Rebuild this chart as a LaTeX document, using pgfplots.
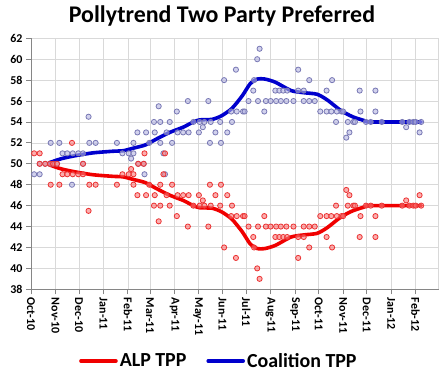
\documentclass[border=0pt]{standalone}
\usepackage{pgfplots}
\usepackage{pgfplotstable}
\pgfplotsset{compat=1.18}
\usepackage{fontspec}
\setmainfont{Carlito}
\definecolor{gridc}{RGB}{217,217,217}
\definecolor{axisc}{RGB}{134,134,134}
\definecolor{alpline}{RGB}{240,0,0}
\definecolor{coaline}{RGB}{0,0,205}
\definecolor{alpedge}{RGB}{235,50,50}
\definecolor{alpfill}{RGB}{250,120,120}
\definecolor{coaedge}{RGB}{120,120,180}
\definecolor{coafill}{RGB}{180,180,225}

\pgfplotstableread{
day v
4 51
11 51
11 50
18 50
24 50
28 50
33 50
40 49
46 49
53 49
60 49
66 49
66 50
25 48
36 48
74 48
82 48
109 48
52 52
73 45.5
116 49
124 49
130 49
127 49.5
130 48
135 47
136 50
143 50
144 51
146 47
150 48
157 47
156 46
164 46
162 44.5
164 48
168 49
170 51
172 47
176 46
179 48
185 45
186 47
193 47
200 47
199 44
206 46
213 47
214 46
218 46.5
220 46
225 44
227 48
228 46
234 47
240 46
241 48
245 42
249 47
254 45
255 46
260 41
261 45
269 45
271 45
276 44
282 43
283 42
287 40
290 39
288 44
296 45
298 44
304 44
311 44
317 44
324 44
333 44
310 43
315 43
320 43
325 43
339 43
346 43
339 41
346 44
353 44
360 44
353 42
367 45
375 45
375 43
381 45
382 42
387 46
388 45
394 45
396 45
400 47.5
404 47
402 46
409 46
411 46
418 45
417 43
425 46
431 46
437 45
437 43
445 46
471 46
476 46.5
480 46
485 46
488 46
495 46
493 47
}\alppts

\pgfplotstableread{
day v
4 49
11 49
11 50
18 50
24 50
28 50
33 50
40 51
46 51
53 51
60 51
66 51
66 50
25 52
36 52
74 52
82 52
109 52
52 48
73 54.5
116 51
124 51
130 51
127 50.5
130 52
135 53
136 50
143 50
144 49
146 53
150 52
157 53
156 54
164 54
162 55.5
164 52
168 51
170 49
172 53
176 54
179 52
185 55
186 53
193 53
200 53
199 56
206 54
213 53
214 54
218 53.5
220 54
225 56
227 52
228 54
234 53
240 54
241 52
245 58
249 53
254 55
255 54
260 59
261 55
269 55
271 55
276 56
282 57
283 58
287 60
290 61
288 56
296 55
298 56
304 56
311 56
317 56
324 56
333 56
310 57
315 57
320 57
325 57
339 57
346 57
339 59
346 56
353 56
360 56
353 58
367 55
375 55
375 57
381 55
382 58
387 54
388 55
394 55
396 55
400 52.5
404 53
402 54
409 54
411 54
418 55
417 57
425 54
431 54
437 55
437 57
445 54
471 54
476 53.5
480 54
485 54
488 54
495 54
493 53
}\coapts

\pgfplotstableread{
day v
23 49.9
39 49.5
58 49.2
79 48.95
104 48.8
117 48.75
130 48.5
145 48.2
160 47.6
176 47.0
193 46.5
206 46.0
214 45.8
230 45.75
242 45.4
255 44.7
268 43.5
278 42.35
287 41.9
297 41.9
310 42.2
330 43.0
346 43.2
363 43.35
376 43.9
393 44.9
408 45.5
422 45.85
430 46.0
495 46.0
}\alptrend

\pgfplotstableread{
day v
23 50.1
39 50.5
58 50.8
79 51.05
104 51.2
117 51.25
130 51.5
145 51.8
160 52.4
176 53.0
193 53.5
206 54.0
214 54.2
230 54.25
242 54.6
255 55.3
268 56.5
278 57.65
287 58.1
297 58.1
310 57.8
330 57.0
346 56.8
363 56.65
376 56.1
393 55.1
408 54.5
422 54.15
430 54.0
495 54.0
}\coatrend

\begin{document}
\begin{tikzpicture}
\useasboundingbox (-31bp,-86.7bp) rectangle (417bp,289.3bp);
\begin{axis}[
  at={(0,0)}, anchor=south west,
  scale only axis, width=407.5bp, height=251bp,
  xmin=0, xmax=517, ymin=38, ymax=62,
  xtick={0,31,61,92,123,151,182,212,243,273,304,335,365,396,426,457,488},
  xticklabels={Oct-10,Nov-10,Dec-10,Jan-11,Feb-11,Mar-11,Apr-11,May-11,Jun-11,Jul-11,Aug-11,Sep-11,Oct-11,Nov-11,Dec-11,Jan-12,Feb-12},
  extra x ticks={517}, extra x tick labels={},
  extra x tick style={grid=major, major tick length=0pt},
  ytick={38,40,...,62},
  grid=major,
  grid style={line width=0.75bp, draw=gridc},
  axis x line*=bottom, axis y line*=left,
  axis line style={line width=0.9bp, draw=axisc, -},
  tick align=outside, major tick length=5bp,
  tick style={line width=0.9bp, draw=axisc},
  /pgf/number format/assume math mode=true,
  y tick label style={font=\bfseries\fontsize{12}{12}\selectfont},
  x tick label style={font=\bfseries\fontsize{12}{12}\selectfont, rotate=-90, anchor=west},
  legend style={at={(0.461,-0.2857)}, anchor=center, draw=none, fill=none,
    legend columns=2, font=\bfseries\fontsize{20}{20}\selectfont,
    /tikz/every even column/.append style={column sep=18bp},
    inner sep=0pt},
  legend image code/.code={\draw[#1] (0bp,0bp) -- (35bp,0bp);},
]
\addplot[only marks, mark=*, mark size=2.6bp,
  mark options={draw=coaedge, fill=coafill, fill opacity=0.6, line width=0.8bp},
  forget plot] table[x=day,y=v] {\coapts};
\addplot[only marks, mark=*, mark size=2.6bp,
  mark options={draw=alpedge, fill=alpfill, fill opacity=0.6, line width=0.8bp},
  forget plot] table[x=day,y=v] {\alppts};
\addplot[alpline, line width=3.6bp, smooth, tension=0.4, line join=round, line cap=round, no marks]
  table[x=day,y=v] {\alptrend};
\addlegendentry{ALP TPP}
\addplot[coaline, line width=3.6bp, smooth, tension=0.4, line join=round, line cap=round, no marks]
  table[x=day,y=v] {\coatrend};
\addlegendentry{Coalition TPP}
\end{axis}
\node[font=\bfseries\fontsize{24}{24}\selectfont, anchor=base] at (191bp,266.6bp) {Pollytrend Two Party Preferred};
\end{tikzpicture}
\end{document}
